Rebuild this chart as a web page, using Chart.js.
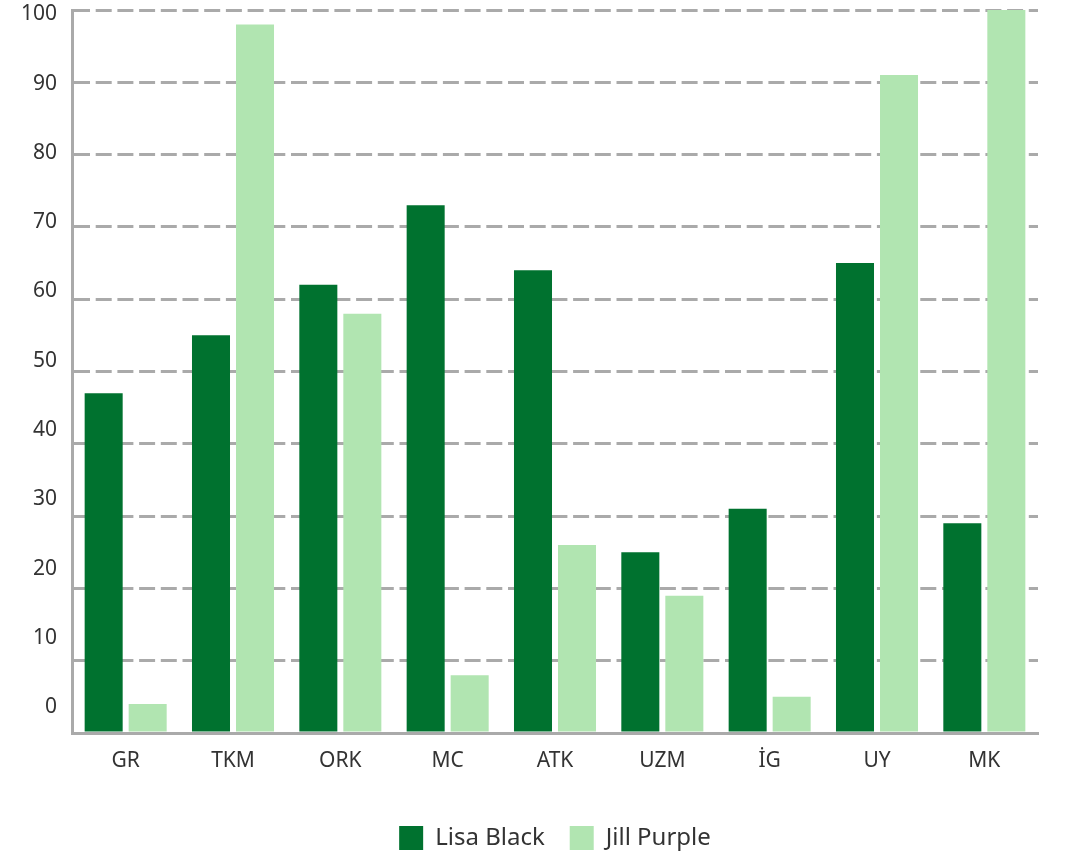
<!DOCTYPE html>
<html>
<head>
<meta charset="utf-8">
<script src="https://cdn.jsdelivr.net/npm/chart.js@4.4.1/dist/chart.umd.min.js"></script>
<style>
  html, body { margin: 0; padding: 0; background: #fff; }
  #wrap { width: 1065px; height: 855px; }
</style>
</head>
<body>
<div id="wrap"><canvas id="barChart"></canvas></div>
<script>
const categories = ["GR", "TKM", "ORK", "MC", "ATK", "UZM", "İG", "UY", "MK"];
const lisaBlack = [47, 55, 62, 73, 64, 25, 31, 65, 29];
const jillPurple = [4, 98, 58, 8, 26, 19, 5, 91, 100];
const yTicks = [0, 10, 20, 30, 40, 50, 60, 70, 80, 90, 100];

const FONT = "'Noto Sans', sans-serif";
const GRID = "#aaaaaa";
const TEXT = "#333333";

const ctx = document.getElementById("barChart");
new Chart(ctx, {
  type: "bar",
  data: {
    labels: categories,
    datasets: [
      { label: "Lisa Black", data: lisaBlack, backgroundColor: "#00722f", yAxisID: "y" },
      { label: "Jill Purple", data: jillPurple, backgroundColor: "#b1e5b1", yAxisID: "y" }
    ]
  },
  options: {
    responsive: true,
    maintainAspectRatio: false,
    animation: false,
    layout: { padding: { top: 10, right: 27, left: 0, bottom: -5 } },
    datasets: { bar: { categoryPercentage: 0.82, barPercentage: 0.864 } },
    plugins: {
      tooltip: { enabled: false },
      legend: {
        position: "bottom",
        fullSize: false,
        labels: {
          boxWidth: 24, boxHeight: 24, padding: 25,
          color: TEXT, font: { family: FONT, size: 24 }
        }
      }
    },
    scales: {
      x: {
        grid: { display: false, drawTicks: false },
        border: { color: GRID, width: 3 },
        ticks: { color: TEXT, font: { family: FONT, size: 21 }, padding: 15 },
        afterFit: s => { s.height = 68; s.paddingLeft = 0; s.paddingRight = 0; }
      },
      y: {
        position: "left",
        min: 0, max: 100,
        ticks: { display: false, stepSize: 10 },
        grid: { color: GRID, lineWidth: 3, drawTicks: false },
        border: { color: GRID, width: 3, dash: [16, 5.7] },
        afterFit: s => { s.width = 0; s.paddingTop = 0; s.paddingBottom = 0; }
      },
      // label axis: its tick labels sit a little above the gridlines, as in the picture
      yl: {
        position: "left",
        min: -3.75, max: 100.65,
        grid: { display: false, drawTicks: false },
        border: { display: false },
        ticks: { color: TEXT, font: { family: FONT, size: 21 }, padding: 15 },
        afterBuildTicks: s => { s.ticks = yTicks.map(v => ({ value: v })); },
        afterFit: s => { s.width = 72; s.paddingTop = 0; s.paddingBottom = 0; }
      }
    }
  }
});
</script>
</body>
</html>
